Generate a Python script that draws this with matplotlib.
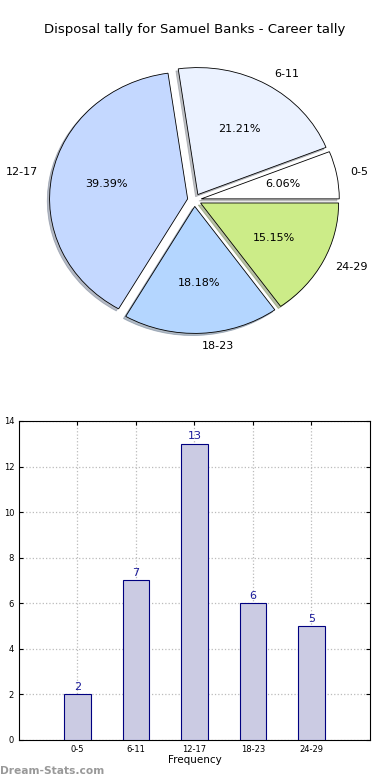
import matplotlib
matplotlib.use('Agg')
import matplotlib.pyplot as plt

# data
categories = ['0-5', '6-11', '12-17', '18-23', '24-29']
counts = [2, 7, 13, 6, 5]
pie_colors = ['#ffffff', '#ebf2ff', '#c4d8ff', '#b4d6ff', '#ccec88']
title = 'Disposal tally for Samuel Banks - Career tally'

fig = plt.figure(figsize=(3.9, 7.8), dpi=100)

# pie
ax_pie = fig.add_axes([0.056, 0.540, 0.885, 0.407])
wedges, texts, autotexts = ax_pie.pie(counts, labels=categories, colors=pie_colors,
                                      explode=[0.05] * len(counts), autopct='%.2f%%',
                                      shadow={'ox': -0.012, 'oy': -0.012, 'shade': 0.45},
                                      startangle=0,
                                      wedgeprops=dict(edgecolor='black', linewidth=0.6),
                                      textprops=dict(fontsize=8))
ax_pie.set_aspect('auto')
ax_pie.set_xlim(-1.25, 1.25)
ax_pie.set_ylim(-1.25, 1.25)
fig.text(0.5, 0.962, title, ha='center', va='center', fontsize=9.5)

# bars
ax_bar = fig.add_axes([0.0487, 0.0513, 0.9, 0.409])
xpos = list(range(len(categories)))
ax_bar.bar(xpos, counts, width=0.45, color='#cbcbe3', edgecolor='#000080',
           linewidth=0.8, zorder=3)
for x, c in zip(xpos, counts):
    ax_bar.text(x, c + 0.1, str(c), ha='center', va='bottom', fontsize=8,
                color='#1a1a9a', zorder=4)
ax_bar.set_xlim(-1, 5)
ax_bar.set_ylim(0, 14)
ax_bar.set_xticks(xpos)
ax_bar.set_xticklabels(categories)
ax_bar.set_yticks(range(0, 15, 2))
ax_bar.tick_params(labelsize=6, direction='in', top=True, right=True, length=3)
ax_bar.grid(True, linestyle=':', color='#bbbbbb', linewidth=0.9, zorder=0)
ax_bar.set_xlabel('Frequency', fontsize=7.5, labelpad=1)
# the y label is clipped by the left edge, as in the original
ax_bar.set_ylabel('Disposal Tally', fontsize=7.5)
ax_bar.yaxis.set_label_coords(-0.053, 0.5)

fig.text(0.0, 0.012, 'Dream-Stats.com', ha='left', va='center', fontsize=7.7,
         color='#999999', fontweight='bold')

fig.savefig('out.png', dpi=100)
